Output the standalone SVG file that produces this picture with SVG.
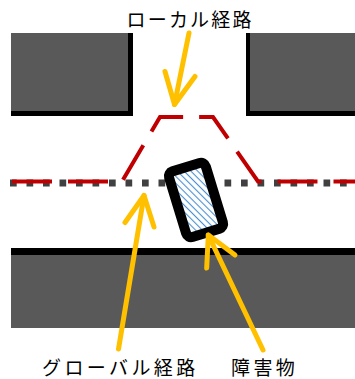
<svg xmlns="http://www.w3.org/2000/svg" width="355" height="379" viewBox="0 0 355 379">
<style>
.edge{fill:#000}
.fill{fill:#595959}
.arrow{fill:none;stroke:#ffc000;stroke-width:5;stroke-linecap:round;stroke-linejoin:round}
.label{font-family:"Noto Sans CJK JP","Noto Sans",sans-serif;font-size:19px;fill:#000}
</style>
<defs>
<pattern id="hatch" width="5" height="4.8" patternUnits="userSpaceOnUse" patternTransform="rotate(62)">
<rect width="5" height="4.8" fill="#fff"/>
<line x1="0" y1="2.4" x2="5" y2="2.4" stroke="#4a8fd0" stroke-width="1.1"/>
</pattern>
</defs>
<g id="block-top-left">
<rect class="edge" x="11" y="33" width="122" height="83"/>
<rect class="fill" x="11" y="33" width="117" height="78"/>
</g>
<g id="block-top-right">
<rect class="edge" x="246" y="33" width="109" height="83"/>
<rect class="fill" x="250" y="33" width="105" height="78"/>
</g>
<g id="block-bottom">
<rect class="edge" x="11" y="248" width="344" height="7"/>
<rect class="fill" x="11" y="255" width="344" height="73"/>
</g>
<g id="global-path">
<path d="M10,183 H355" fill="none" stroke="#404040" stroke-width="7" stroke-dasharray="6.7 9.8"/>
</g>
<g id="local-path">
<path d="M12,181.5 H122 L160,117 H213 L258,181.5 H355" fill="none" stroke="#c00000" stroke-width="4" stroke-dasharray="40 16" stroke-linejoin="miter"/>
</g>
<g id="obstacle" transform="translate(196,200) rotate(-17)">
<rect x="-19.2" y="-34.3" width="38.4" height="68.6" rx="5" fill="url(#hatch)" stroke="#000" stroke-width="10"/>
</g>
<g id="connectors">
<path class="arrow" d="M189,33 L174.5,104.5"/>
<path class="arrow" d="M165,71.5 L174.5,104.5 L195,76.5"/>
<path class="arrow" d="M118.5,349 L144,195.5"/>
<path class="arrow" d="M125,222.5 L144,195.5 L154,227"/>
<path class="arrow" d="M263,350 L208.3,235"/>
<path class="arrow" d="M206.7,268 L208.3,235 L235,255"/>
</g>
<g id="label-local">
<text class="label" x="126.5" y="27" letter-spacing="2.2">ローカル経路</text>
</g>
<g id="label-global">
<text class="label" x="42" y="374.5" letter-spacing="3.4">グローバル経路</text>
</g>
<g id="label-obstacle">
<text class="label" x="231" y="374.5" letter-spacing="3.4">障害物</text>
</g>
</svg>
